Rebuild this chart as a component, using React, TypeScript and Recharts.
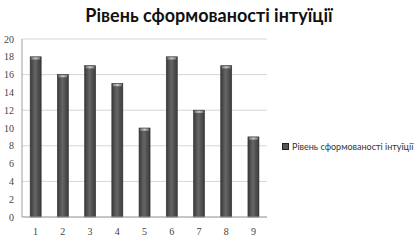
import { BarChart, Bar, XAxis, YAxis, CartesianGrid } from 'recharts'

const categories = ['1', '2', '3', '4', '5', '6', '7', '8', '9']
const levels = [18, 16, 17, 15, 10, 18, 12, 17, 9]
const yTicks = [0, 2, 4, 6, 8, 10, 12, 14, 16, 18, 20]
const seriesName = 'Рівень сформованості інтуїції'

const data = categories.map((c, i) => ({ name: c, value: levels[i] }))

// column with a rounded-looking highlight cap on top
const CylinderBar = (props: any) => {
  const { x, y, width, height } = props
  if (!height || height <= 0) return null
  return (
    <g>
      <rect x={x} y={y} width={width} height={height} fill="url(#barGrad)" stroke="#2e2e2e" strokeWidth={0.6} />
      <rect x={x + 1} y={y + 0.5} width={width - 2} height={2.2} fill="url(#capGrad)" />
    </g>
  )
}

export default function App() {
  return (
    <div style={{ position: 'absolute', left: 0, top: 0, width: 418, height: 241, background: '#fff' }}>
      <div
        style={{
          position: 'absolute',
          left: 0,
          top: 4,
          width: 418,
          textAlign: 'center',
          fontFamily: 'Lato, sans-serif',
          fontWeight: 700,
          fontSize: 18,
          color: '#111',
        }}
      >
        {seriesName}
      </div>
      <div
        style={{
          position: 'absolute',
          left: 282,
          top: 141,
          display: 'flex',
          alignItems: 'center',
          fontFamily: 'Lato, sans-serif',
          fontSize: 9,
          color: '#333',
          whiteSpace: 'nowrap',
        }}
      >
        <span style={{ display: 'inline-block', width: 5, height: 5, background: '#555', border: '0.5px solid #222', marginRight: 3 }} />
        {seriesName}
      </div>
      <BarChart width={418} height={241} data={data} margin={{ top: 39, right: 151, bottom: 0, left: 0 }} barCategoryGap="30%">
        <defs>
          <linearGradient id="barGrad" x1="0" y1="0" x2="1" y2="0">
            <stop offset="0%" stopColor="#3a3a3a" />
            <stop offset="45%" stopColor="#666" />
            <stop offset="100%" stopColor="#3a3a3a" />
          </linearGradient>
          <linearGradient id="capGrad" x1="0" y1="0" x2="1" y2="0">
            <stop offset="0%" stopColor="#777" />
            <stop offset="50%" stopColor="#c8c8c8" />
            <stop offset="100%" stopColor="#777" />
          </linearGradient>
        </defs>
        <CartesianGrid vertical={false} stroke="#d6d6d6" />
        <XAxis
          dataKey="name"
          tickLine={false}
          axisLine={{ stroke: '#a0a0a0' }}
          tickMargin={5}
          height={24}
          tick={{ fontFamily: '"Liberation Serif", serif', fontSize: 10, fill: '#444' }}
        />
        <YAxis
          domain={[0, 20]}
          ticks={yTicks}
          width={22}
          tickLine={false}
          axisLine={{ stroke: '#a0a0a0' }}
          tick={{ fontFamily: '"Liberation Serif", serif', fontSize: 10, fill: '#444' }}
        />
        <Bar dataKey="value" name={seriesName} shape={<CylinderBar />} isAnimationActive={false} />
      </BarChart>
    </div>
  )
}
